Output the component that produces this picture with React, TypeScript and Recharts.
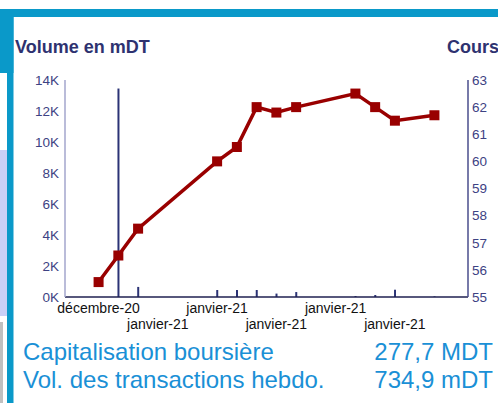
import React from 'react';
import { ComposedChart, Line, Bar, XAxis, YAxis } from 'recharts';

const dayIndex = [0, 1, 2, 6, 7, 8, 9, 10, 13, 14, 15, 17];
const dates = ['2020-12-29', '2020-12-30', '2020-12-31', '2021-01-04', '2021-01-05', '2021-01-06', '2021-01-07', '2021-01-08', '2021-01-11', '2021-01-12', '2021-01-13', '2021-01-15'];
const prices = [55.55, 56.53, 57.52, 60.0, 60.53, 62.0, 61.8, 62.0, 62.5, 62.0, 61.5, 61.7];
const volumes = [0, 13450, 650, 450, 450, 450, 220, 320, 65, 130, 470, 40];
const tickDays = [0, 3, 6, 9, 12, 15];
const tickLabels = ['décembre-20', 'janvier-21', 'janvier-21', 'janvier-21', 'janvier-21', 'janvier-21'];
const volTicks = [0, 2000, 4000, 6000, 8000, 10000, 12000, 14000];
const priceTicks = [55, 56, 57, 58, 59, 60, 61, 62, 63];

const data = dayIndex.map((d, i) => ({ day: d, date: dates[i], price: prices[i], vol: volumes[i] }));

const FONT = '"Liberation Sans", Arial, sans-serif';
const AXIS_TEXT = '#3d4283';

const XTick = (props: any) => {
  const { x, y, index, payload } = props;
  const i = tickDays.indexOf(payload.value);
  const label = i >= 0 ? tickLabels[i] : '';
  const dy = (index % 2 === 1) ? 32 : 16;
  return (
    <text x={x} y={y + dy} textAnchor="middle" fontSize={14} fontFamily={FONT} fill="#111111">{label}</text>
  );
};

const SquareDot = (p: any) => (
  <rect key={`d${p.index}`} x={p.cx - 5} y={p.cy - 5} width={10} height={10} fill="#990000" />
);

export default function App() {
  return (
    <div style={{ position: 'fixed', left: 0, top: 0, width: 498, height: 403, overflow: 'hidden', background: '#ffffff', fontFamily: FONT }}>
      <svg width={498} height={403} style={{ position: 'absolute', left: 0, top: 0 }}>
        <rect x={0} y={9} width={498} height={8} fill="#0a99c9" />
        <rect x={0} y={9} width={13.5} height={64} fill="#0a99c9" />
        <rect x={0} y={150} width={7} height={166} fill="#c9d0f7" />
        <rect x={0} y={322} width={3} height={81} fill="#c0c0c0" />
        <rect x={7} y={17} width={6.5} height={386} fill="#0a99c9" />
      </svg>
      <div style={{ position: 'absolute', left: 0, top: 0 }}>
        <ComposedChart width={498} height={403} data={data} margin={{ top: 80, right: 0, bottom: 76, left: 5 }}>
          <XAxis
            dataKey="day"
            type="number"
            domain={[-1.7, 18.7]}
            ticks={tickDays}
            interval={0}
            tick={<XTick />}
            tickLine={false}
            tickSize={0}
            tickMargin={0}
            height={30}
            axisLine={{ stroke: '#1f2150', strokeWidth: 1.5 }}
            allowDataOverflow
          />
          <YAxis
            yAxisId="left"
            orientation="left"
            width={60}
            domain={[0, 14000]}
            ticks={volTicks}
            interval={0}
            tickFormatter={(v: number) => `${v / 1000}K`}
            tickLine={false}
            tickSize={0}
            tickMargin={6}
            axisLine={{ stroke: '#a3a6cc', strokeWidth: 1.5 }}
            tick={{ fill: AXIS_TEXT, fontSize: 13.5, fontFamily: FONT }}
          />
          <YAxis
            yAxisId="right"
            orientation="right"
            width={30}
            domain={[55, 63]}
            ticks={priceTicks}
            interval={0}
            tickLine={false}
            tickSize={0}
            tickMargin={4}
            axisLine={{ stroke: '#4a4e8c', strokeWidth: 1.5 }}
            tick={{ fill: AXIS_TEXT, fontSize: 13.5, fontFamily: FONT, textAnchor: 'start' }}
          />
          <Bar yAxisId="left" dataKey="vol" fill="#2b3375" barSize={2} isAnimationActive={false} />
          <Line
            yAxisId="right"
            dataKey="price"
            stroke="#990000"
            strokeWidth={3.5}
            dot={SquareDot}
            activeDot={false}
            isAnimationActive={false}
          />
        </ComposedChart>
      </div>
      <svg width={498} height={403} style={{ position: 'absolute', left: 0, top: 0, pointerEvents: 'none' }}>
        <text x={15} y={53} fontSize={18} fontWeight="bold" fontFamily={FONT} fill="#2e3270">Volume en mDT</text>
        <text x={447} y={53} fontSize={18} fontWeight="bold" fontFamily={FONT} fill="#2e3270">Cours</text>
        <text x={23} y={360} fontSize={24} fontFamily={FONT} fill="#1a90d6">Capitalisation boursière</text>
        <text x={493} y={360} fontSize={24} fontFamily={FONT} fill="#1a90d6" textAnchor="end">277,7 MDT</text>
        <text x={23} y={388} fontSize={24} fontFamily={FONT} fill="#1a90d6">Vol. des transactions hebdo.</text>
        <text x={493} y={388} fontSize={24} fontFamily={FONT} fill="#1a90d6" textAnchor="end">734,9 mDT</text>
      </svg>
    </div>
  );
}
